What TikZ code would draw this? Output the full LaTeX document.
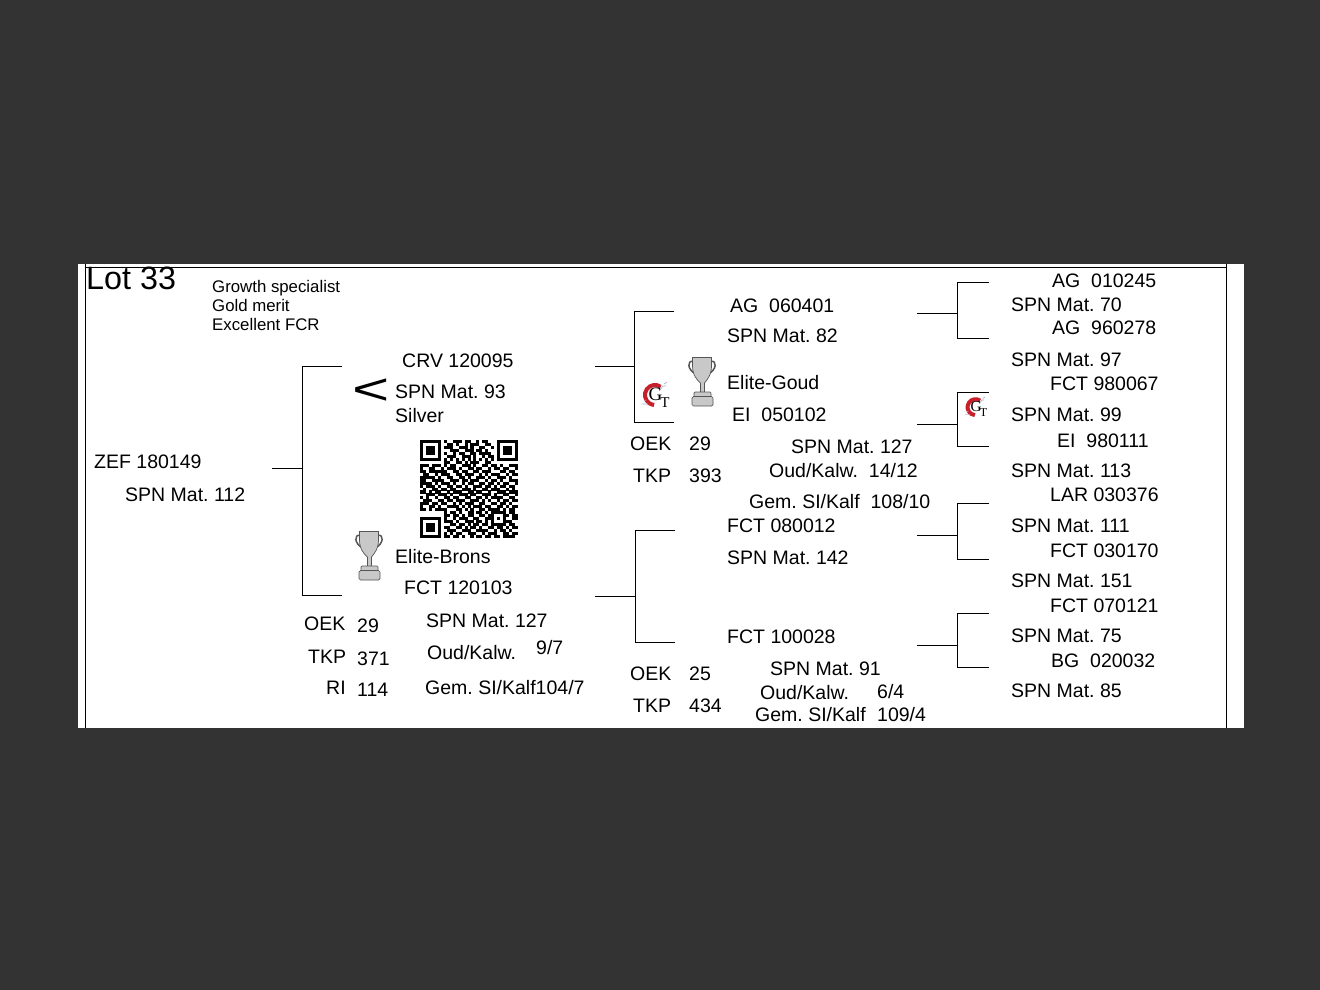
\documentclass[tikz,border=0pt]{standalone}
\usepackage{fontspec}
\setmainfont{Liberation Sans}
\newfontfamily\gtserif{Liberation Serif}
\frenchspacing
\definecolor{bgdark}{HTML}{333333}
\definecolor{cupfill}{HTML}{C8C8C8}
\definecolor{cupline}{HTML}{555555}
\definecolor{gtred}{HTML}{C8202A}
\definecolor{gtblue}{HTML}{A9B7C6}
\newcount\qrx
\newcount\qry
\def\qrparse#1{\ifx#1;\else
  \if#11\fill[black] (420+2.97*\the\qrx,440+2.97*\the\qry) rectangle +(3.02,3.02);\fi
  \global\advance\qrx by 1 \expandafter\qrparse\fi}
\def\qrrow#1{\global\qrx=0 \qrparse#1;\global\advance\qry by 1 }
\tikzset{
  lbl/.style={anchor=base west,inner sep=0pt,font=\fontsize{19.5}{24}\selectfont,text=black},
  small/.style={lbl,font=\fontsize{16.8}{20}\selectfont},
  big/.style={lbl,font=\fontsize{32.3}{36}\selectfont},
  conn/.style={draw=black,line width=1pt},
  framel/.style={draw=black,line width=1pt},
  trophy/.pic={
    \draw[cupline,line width=1.5pt] (5,4.5) .. controls (-1,3) and (-1,13) .. (8,17);
    \draw[cupline,line width=1.5pt] (23,4.5) .. controls (29,3) and (29,13) .. (20,17);
    \draw[cupline,line width=.7pt,fill=cupfill] (4.5,.5) -- (23.5,.5) -- (23.5,9) .. controls (23.5,18) and (19,23) .. (16.5,26) -- (16.5,36) -- (12.5,36) -- (12.5,26) .. controls (9,23) and (4.5,18) .. (4.5,9) -- cycle;
    \draw[cupline,line width=.7pt,fill=cupfill,rounded corners=1pt] (6,35) rectangle (23,40);
    \draw[cupline,line width=.7pt,fill=cupfill,rounded corners=1.5pt] (4,39.5) rectangle (25,49);
  },
  gtlogo/.pic={
    \draw[gtred,line width=4pt] (17.7,5.8) arc[start angle=-55,end angle=-265,radius=10];
    \draw[gtblue,line width=.7pt] (17,9) -- (20,5) -- (23,5) (21,3) -- (24,1);
    \draw[gtblue,line width=.6pt] (-1,23) -- (5,23) (1,20) -- (3,19);
    \node[inner sep=0pt,anchor=base west,text=black,font=\gtserif\fontsize{19}{19}\selectfont] at (5.5,19) {G\kern-2pt\raisebox{-7pt}{\fontsize{15}{15}\selectfont T}};
  }
}
\begin{document}
\begin{tikzpicture}[x=1pt,y=-1pt]
\useasboundingbox (0,0) rectangle (1320,990);
\fill[bgdark] (0,0) rectangle (1320,990);
\fill[white] (78,264) rectangle (1244,728);
% frame
\coordinate (fTL) at (85.5,264);
\coordinate (fBL) at (85.5,728);
\coordinate (fTR) at (1226.5,264);
\coordinate (fBR) at (1226.5,728);
\coordinate (hL) at (85.5,267);
\coordinate (hR) at (1226.5,267);
\draw[framel] (fTL) -- (fBL);
\draw[framel] (fTR) -- (fBR);
\draw[framel] (hL) -- (hR);
% connectors
\foreach \nm/\xa/\xb/\xc/\ya/\yb/\yc in {
  root/272/302/342/468/366/595,
  up/595/634/674/366/311/422,
  lo/595/635/675/596/530/642,
  ra/917/957/989/313/282/338,
  rb/917/957/989/424/392/446,
  rc/917/957/989/535/503/559,
  rd/917/957/989/645/613/667}{
  \coordinate (\nm s) at (\xa,\ya);
  \coordinate (\nm m) at (\xb,\ya);
  \coordinate (\nm t) at (\xc,\yb);
  \coordinate (\nm u) at (\xb,\yb);
  \coordinate (\nm b) at (\xc,\yc);
  \coordinate (\nm v) at (\xb,\yc);
  \draw[conn] (\nm s) -- (\nm m);
  \draw[conn] (\nm t) -- (\nm u) -- (\nm v) -- (\nm b);
}
% texts
\node[big] (lot) at (86,289) {Lot 33};
\node[small] (n1) at (212,292) {Growth specialist};
\node[small] (n2) at (212,311) {Gold merit};
\node[small] (n3) at (212,330) {Excellent FCR};
\node[lbl] (t1) at (94,468) {ZEF 180149};
\node[lbl] (t2) at (125,501) {SPN Mat. 112};
\node[lbl] (t3) at (402,367) {CRV 120095};
\node[lbl] (t4) at (395,398) {SPN Mat. 93};
\node[lbl] (t5) at (395,422) {Silver};
\node[lbl] (t6) at (395,563) {Elite-Brons};
\node[lbl] (t7) at (404,594) {FCT 120103};
\node[lbl] (t8) at (304,630) {OEK};
\node[lbl] (t9) at (357,632) {29};
\node[lbl] (t10) at (308,663) {TKP};
\node[lbl] (t11) at (357,665) {371};
\node[lbl] (t12) at (326,694) {RI};
\node[lbl] (t13) at (357,696) {114};
\node[lbl] (t14) at (426,627) {SPN Mat. 127};
\node[lbl] (t15) at (427,659) {Oud/Kalw.};
\node[lbl] (t16) at (536,654) {9/7};
\node[lbl] (t17) at (425,694) {Gem. SI/Kalf104/7};
\node[lbl] (t18) at (730,312) {AG\ \ 060401};
\node[lbl] (t19) at (727,342) {SPN Mat. 82};
\node[lbl] (t20) at (727,389) {Elite-Goud};
\node[lbl] (t21) at (732,421) {EI\ \ 050102};
\node[lbl] (t22) at (630,450) {OEK};
\node[lbl] (t23) at (689,450) {29};
\node[lbl] (t24) at (633,482) {TKP};
\node[lbl] (t25) at (689,482) {393};
\node[lbl] (t26) at (791,453) {SPN Mat. 127};
\node[lbl] (t27) at (769,477) {Oud/Kalw.\ \ 14/12};
\node[lbl] (t28) at (749,508) {Gem. SI/Kalf\ \ 108/10};
\node[lbl] (t29) at (727,532) {FCT 080012};
\node[lbl] (t30) at (727,564) {SPN Mat. 142};
\node[lbl] (t31) at (727,643) {FCT 100028};
\node[lbl] (t32) at (630,680) {OEK};
\node[lbl] (t33) at (689,680) {25};
\node[lbl] (t34) at (633,712) {TKP};
\node[lbl] (t35) at (689,712) {434};
\node[lbl] (t36) at (770,675) {SPN Mat. 91};
\node[lbl] (t37) at (760,699) {Oud/Kalw.};
\node[lbl] (t38) at (877,698) {6/4};
\node[lbl] (t39) at (755,721) {Gem. SI/Kalf};
\node[lbl] (t40) at (877,721) {109/4};
\node[lbl] (r1) at (1052,287) {AG\ \ 010245};
\node[lbl] (r2) at (1011,311) {SPN Mat. 70};
\node[lbl] (r3) at (1052,334) {AG\ \ 960278};
\node[lbl] (r4) at (1011,366) {SPN Mat. 97};
\node[lbl] (r5) at (1050,390) {FCT 980067};
\node[lbl] (r6) at (1011,421) {SPN Mat. 99};
\node[lbl] (r7) at (1057,447) {EI\ \ 980111};
\node[lbl] (r8) at (1011,477) {SPN Mat. 113};
\node[lbl] (r9) at (1050,501) {LAR 030376};
\node[lbl] (r10) at (1011,532) {SPN Mat. 111};
\node[lbl] (r11) at (1050,557) {FCT 030170};
\node[lbl] (r12) at (1011,587) {SPN Mat. 151};
\node[lbl] (r13) at (1050,612) {FCT 070121};
\node[lbl] (r14) at (1011,642) {SPN Mat. 75};
\node[lbl] (r15) at (1051,667) {BG\ \ 020032};
\node[lbl] (r16) at (1011,697) {SPN Mat. 85};
% less-than mark
\node[anchor=center,inner sep=0pt,xscale=1.45,font=\fontsize{44}{44}\selectfont] (lt) at (371,391.5) {<};
% trophies and logos
\pic at (355,531) {trophy};
\pic at (688,357) {trophy};
\pic at (643,381) {gtlogo};
\pic[scale=.8,transform shape] at (966,396) {gtlogo};
% QR
\global\qry=0
\qrrow{1111111 0 10011101100101100 0 1111111}
\qrrow{1000001 0 01101001011100110 0 1000001}
\qrrow{1011101 0 11100111010011001 0 1011101}
\qrrow{1011101 0 00111001110110100 0 1011101}
\qrrow{1011101 0 10010110011011110 0 1011101}
\qrrow{1000001 0 01110011101001011 0 1000001}
\qrrow{1111111 0 10101010101010101 0 1111111}
\qrrow{0000000 0 11001101011100110 0 0000000}
\qrrow{111011101011001110100110110100111}
\qrrow{100110010111010011011001011011001}
\qrrow{110111111001101100110111000110110}
\qrrow{011001011100110111001010111001011}
\qrrow{111110100110011010011101001110100}
\qrrow{110011110011101101110010110100111}
\qrrow{111101011101001011001101101011001}
\qrrow{101110100110110100111011010110110}
\qrrow{010011011011001110100110111001010}
\qrrow{110101100101110011011001001110111}
\qrrow{001110111010011101100111010011001}
\qrrow{101001001101100110011010111100110}
\qrrow{011100110110111001110101001011011}
\qrrow{111011011001010111001100110110100}
\qrrow{100110100111101010111011001101011}
\qrrow{110101111000110101001101111010110}
\qrrow{00000000 1011010011011010 11111 0110}
\qrrow{00000000 1101101011001101 10001 1011}
\qrrow{1111111 0 1001011100110011 10101 0011}
\qrrow{1000001 0 1110100111011010 10001 1100}
\qrrow{1011101 0 0011011010110110 11111 0110}
\qrrow{1011101 0 1100110101101001 10110 1011}
\qrrow{1011101 0 0111001110011110 01011 0100}
\qrrow{1000001 0 1010110011100101 11001 1011}
\qrrow{1111111 0 1101101001011011 01101 1110}
\end{tikzpicture}
\end{document}
